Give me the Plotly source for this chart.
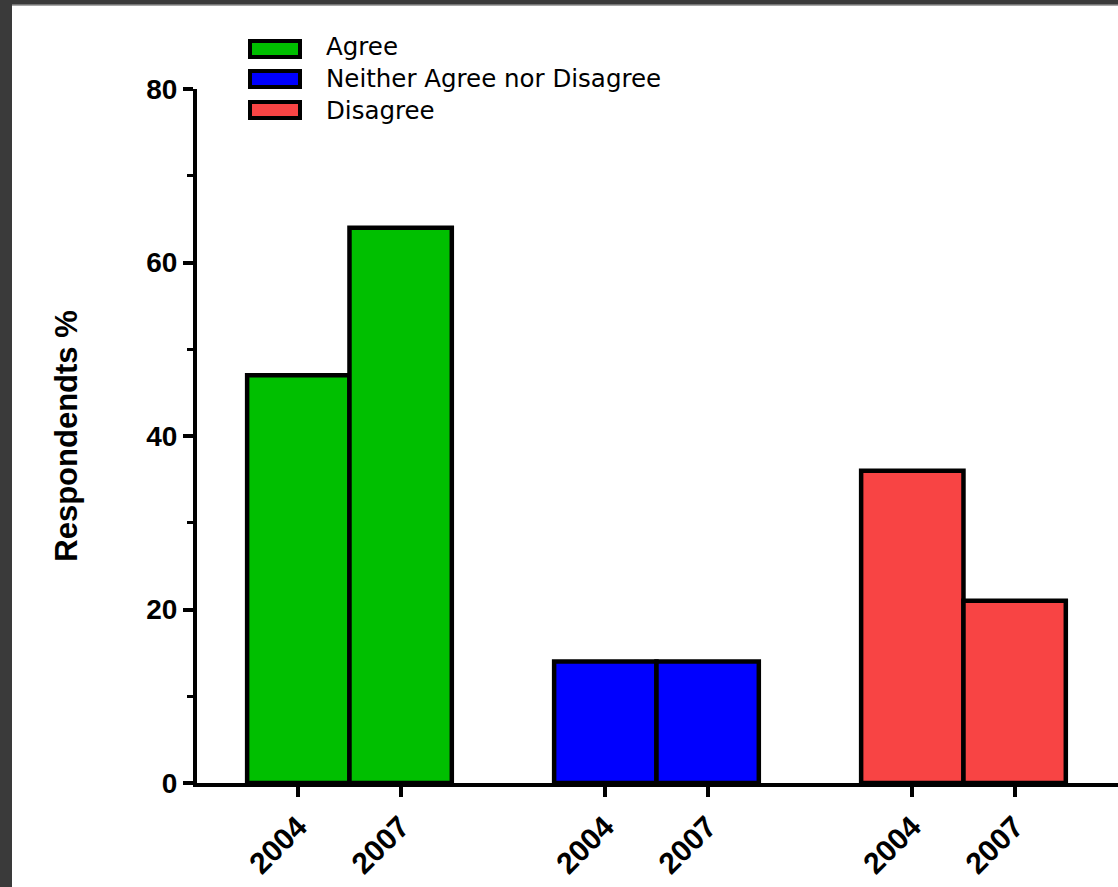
import plotly.graph_objects as go

categories = ["Agree", "Neither Agree nor Disagree", "Disagree"]
years = ["2004", "2007"]
agree = [47, 64]
neither = [14, 14]
disagree = [36, 21]
colors = ["#00BF00", "#0000FF", "#F84444"]

series = [agree, neither, disagree]
group_starts = [0, 3, 6]

fig = go.Figure()
tickvals, ticktext = [], []
for name, vals, col, g in zip(categories, series, colors, group_starts):
    xs = [g + i for i in range(len(years))]
    tickvals += xs
    ticktext += years
    fig.add_trace(go.Bar(
        x=xs, y=vals, name=name, width=1.0,
        marker=dict(color=col, line=dict(color="black", width=4.5)),
    ))

W, H = 1118, 887
L, R, T, B = 197, 0, 89, 104
pw, ph = W - L - R, H - T - B


def px_x(p):
    return (p - L) / pw


def px_y(p):
    return (H - B - p) / ph


# white page area with a dark frame at top/left
fig.add_shape(type="rect", xref="paper", yref="paper",
              x0=px_x(12), x1=px_x(W + 5), y0=px_y(H + 5), y1=px_y(5),
              fillcolor="white", line=dict(width=0), layer="below")
fig.add_shape(type="line", xref="paper", yref="paper",
              x0=px_x(12), x1=px_x(W + 5), y0=px_y(5), y1=px_y(5),
              line=dict(color="#8a8a8a", width=1.5), layer="below")

# legend drawn as boxes + one multi-line text
row_centers = [49, 79, 110]
for col, yc in zip(colors, row_centers):
    fig.add_shape(type="rect", xref="paper", yref="paper",
                  x0=px_x(250), x1=px_x(300), y0=px_y(yc + 8), y1=px_y(yc - 8),
                  fillcolor=col, line=dict(color="black", width=4))
fig.add_annotation(xref="paper", yref="paper", x=px_x(324), y=px_y(79),
                   xanchor="left", yanchor="middle", align="left", showarrow=False,
                   text="<br>".join(categories),
                   font=dict(family="DejaVu Sans", size=24.5, color="black"))

fig.update_layout(
    width=W, height=H,
    margin=dict(l=L, r=R, t=T, b=B, pad=0),
    paper_bgcolor="#3a3a3a", plot_bgcolor="white",
    barmode="overlay", showlegend=False,
    xaxis=dict(range=[-0.99, 8.01], tickvals=tickvals, ticktext=ticktext, tickangle=-45,
               showline=True, linecolor="black", linewidth=4, ticks="outside",
               ticklen=10, tickwidth=4, tickcolor="black", showgrid=False, zeroline=False,
               tickfont=dict(family="Liberation Sans", size=30, color="black", weight="bold")),
    yaxis=dict(range=[0, 80], tickvals=[0, 20, 40, 60, 80],
               showline=True, linecolor="black", linewidth=4, ticks="outside",
               ticklen=10, tickwidth=4, tickcolor="black", showgrid=False, zeroline=False,
               minor=dict(dtick=10, ticks="outside", ticklen=6, tickwidth=3, tickcolor="black"),
               tickfont=dict(family="Liberation Sans", size=28, color="black", weight="bold"),
               title=dict(text="Respondendts %", standoff=60,
                          font=dict(family="Liberation Sans", size=31, color="black", weight="bold"))),
)

fig.write_html("out.html", config={"displayModeBar": False},
               post_script="document.body.style.margin='0px';document.body.style.background='#3a3a3a';")
